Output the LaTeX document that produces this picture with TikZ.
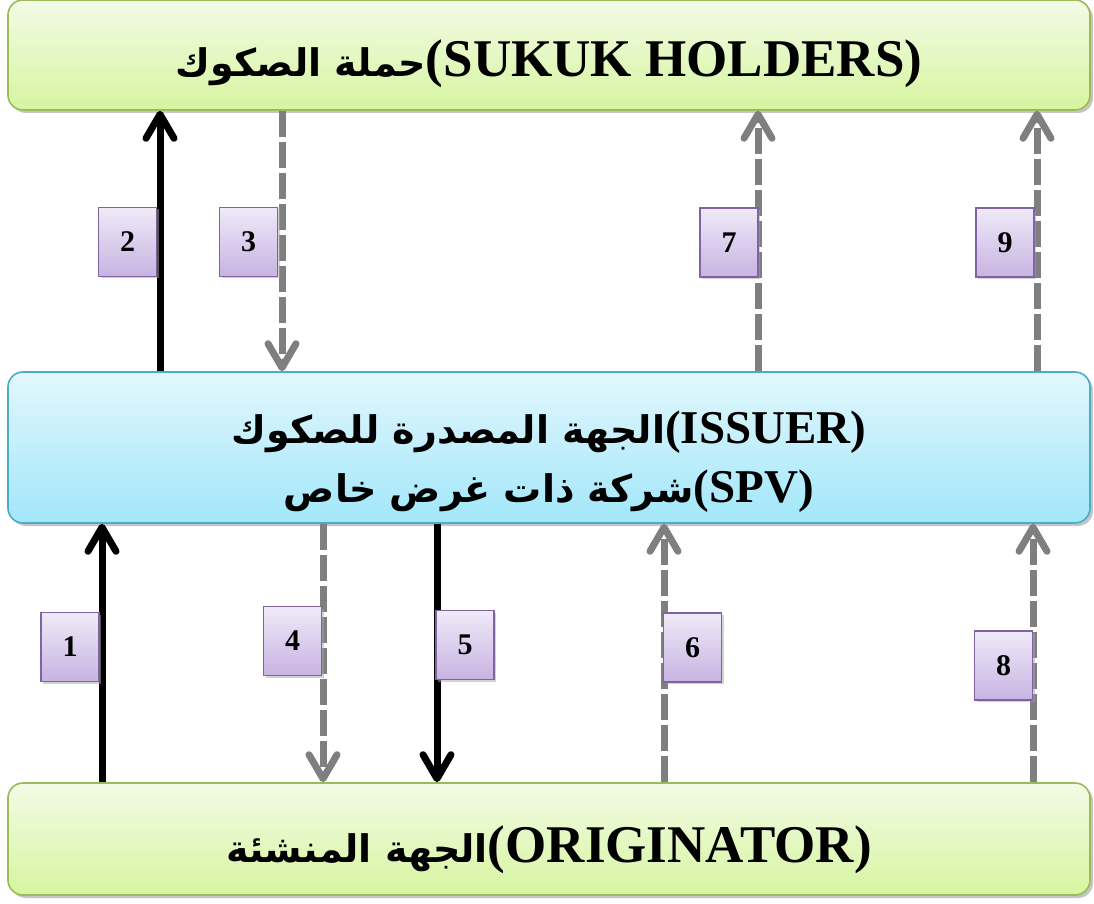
\documentclass[tikz,border=0pt]{standalone}
\usepackage{fontspec}
\setmainfont{Liberation Serif}
\newfontfamily\arabicfont[Script=Arabic]{DejaVu Sans}
\TeXXeTstate=1
\usepackage{tikz}
\usetikzlibrary{arrows.meta,shadows}
\usepackage{xcolor}
\definecolor{sukuktop}{HTML}{F3FBE6}
\definecolor{sukukbottom}{HTML}{D6F5A0}
\definecolor{sukukborder}{HTML}{9BBB59}
\definecolor{issuertop}{HTML}{E2F7FD}
\definecolor{issuerbottom}{HTML}{A2E7FA}
\definecolor{issuerborder}{HTML}{4BACC6}
\definecolor{steptop}{HTML}{EFEAF8}
\definecolor{stepbottom}{HTML}{C8B3E2}
\definecolor{stepborder}{HTML}{8064A2}
\definecolor{flowgrey}{HTML}{7F7F7F}
\newcommand{\ar}[1]{{\arabicfont\fontsize{38}{59}\selectfont\beginR #1\endR}}

\begin{document}
\begin{tikzpicture}[x=1pt, y=1pt,
  panel/.style={rounded corners=15pt, line width=1.6pt, minimum width=1082pt,
    align=center, inner sep=0pt, font=\fontsize{53}{59}\selectfont\bfseries,
    text height=50pt, drop shadow={shadow xshift=3pt, shadow yshift=-3pt, fill=black!45}},
  greenpanel/.style={panel, draw=sukukborder, top color=sukuktop,
    bottom color=sukukbottom},
  bluepanel/.style={panel, draw=issuerborder, top color=issuertop,
    bottom color=issuerbottom, font=\fontsize{47}{59}\selectfont\bfseries},
  stepbox/.style={draw=stepborder, line width=1.2pt, top color=steptop,
    bottom color=stepbottom, minimum width=58pt, minimum height=69pt,
    inner sep=0pt, font=\fontsize{30}{30}\selectfont\bfseries,
    drop shadow={shadow xshift=2pt, shadow yshift=-2pt, fill=black!35}},
  flow/.style={line width=7pt, -{Straight Barb[length=24pt, width=28pt, round]}},
  solidflow/.style={flow, black},
  dashflow/.style={flow, flowgrey, dash pattern=on 26pt off 5pt}]

\useasboundingbox (0,0) rectangle (1094,903);

% the three parties
\node[greenpanel, minimum height=110pt, text depth=6pt] (holders) at (549,848)
  {\ar{حملة الصكوك}(SUKUK HOLDERS)};
\node[bluepanel, minimum height=151pt, text height=115pt, text depth=4pt]
  (issuer) at (549,455.5)
  {\ar{الجهة المصدرة للصكوك}(ISSUER)\\\ar{شركة ذات غرض خاص}(SPV)};
\node[greenpanel, minimum height=112pt, text depth=4pt] (orig) at (549,64)
  {\ar{الجهة المنشئة}(ORIGINATOR)};

% flows between them
\foreach \xx/\from/\to/\kind in {
    102/orig.north/issuer.south/solidflow,
    160/issuer.north/holders.south/solidflow,
    282/holders.south/issuer.north/dashflow,
    323/issuer.south/orig.north/dashflow,
    437/issuer.south/orig.north/solidflow,
    664/orig.north/issuer.south/dashflow,
    758/issuer.north/holders.south/dashflow,
    1033/orig.north/issuer.south/dashflow,
    1037/issuer.north/holders.south/dashflow} {
  \draw[\kind] (\from -| \xx,0) -- (\to -| \xx,0);}

% step numbers
\foreach \num/\xx/\yy in {1/70/256, 2/127.5/661, 3/248.5/661, 4/292.5/262,
    5/465/258, 6/692.5/255.5, 7/729/660.5, 8/1003.5/237.5, 9/1005/660.5}
  \node[stepbox] (n\num) at (\xx,\yy) {\num};
\end{tikzpicture}
\end{document}
